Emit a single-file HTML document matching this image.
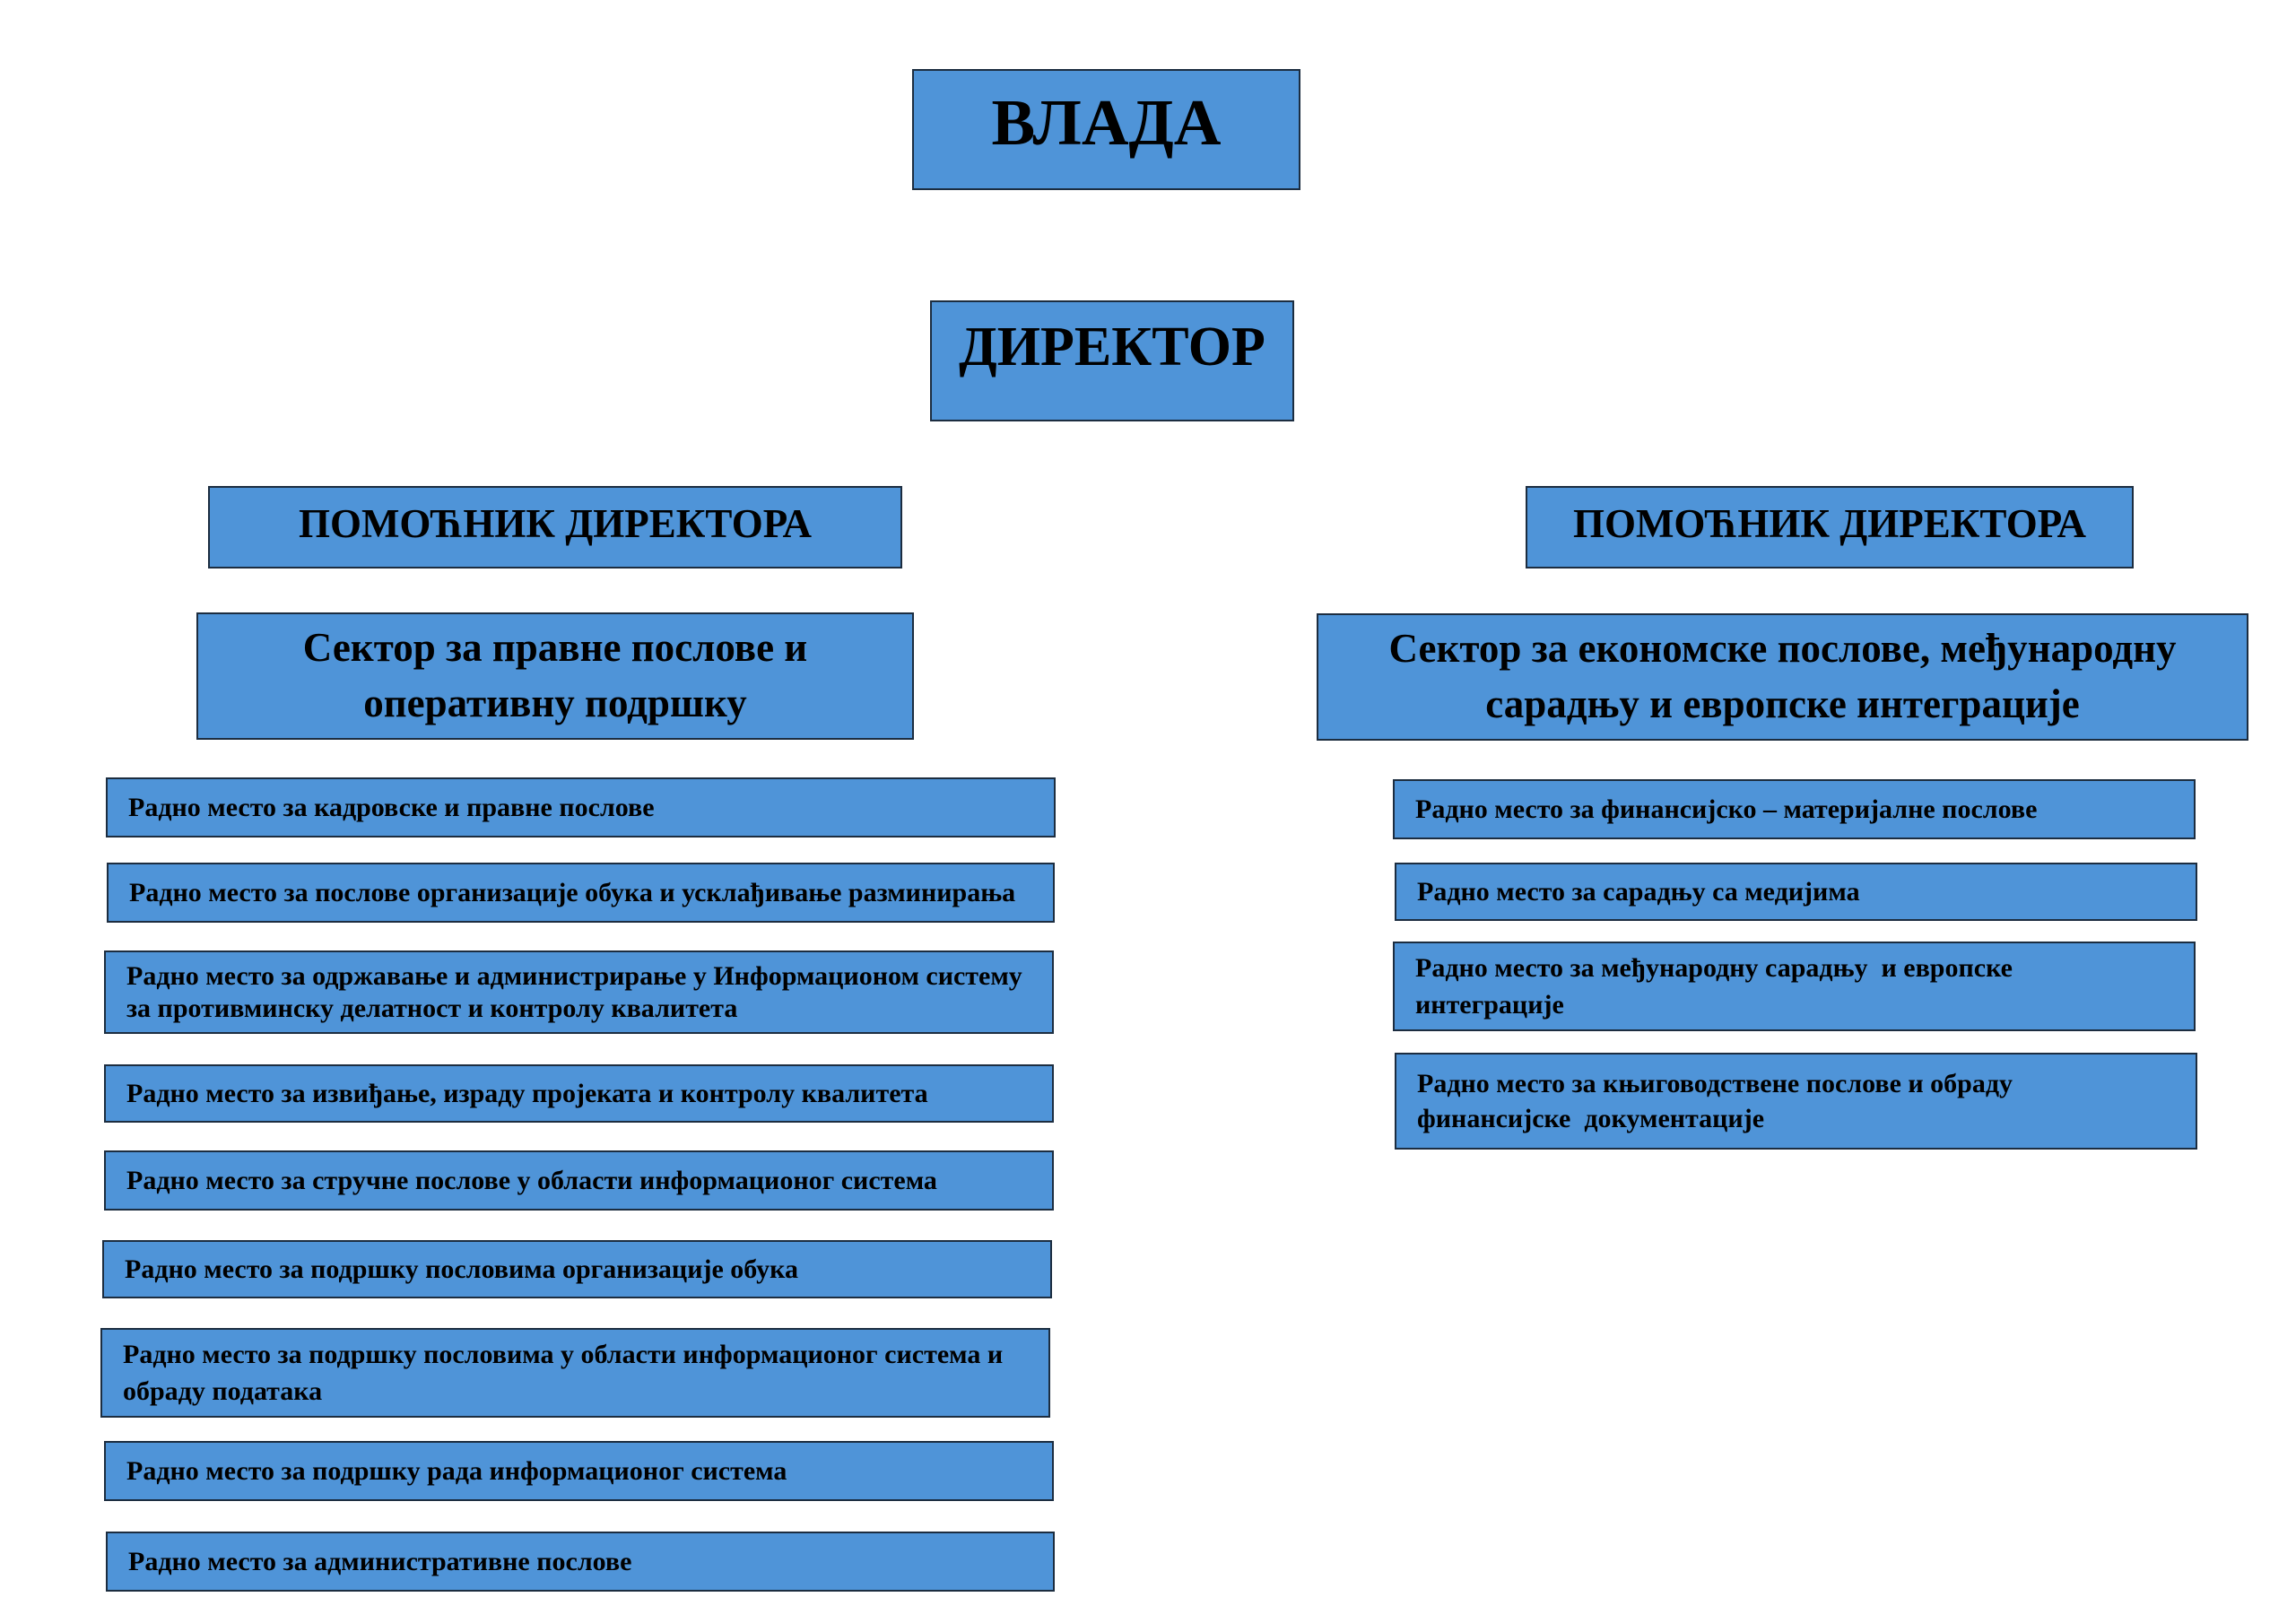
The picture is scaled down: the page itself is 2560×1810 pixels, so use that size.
<!DOCTYPE html>
<html><head><meta charset="utf-8"><style>
html,body{margin:0;padding:0;background:#fff;}
body{width:2560px;height:1810px;position:relative;overflow:hidden;font-family:"Liberation Serif","DejaVu Serif",serif;font-weight:bold;color:#000;}
.b{position:absolute;background:#4F94D8;border:2px solid #1c2d40;box-sizing:border-box;}
.c{text-align:center;}
.i{display:flex;align-items:center;padding-left:23px;font-size:30px;line-height:38px;}
</style></head><body>
<div class="b c" style="left:1017px;top:77px;width:433px;height:135px;font-size:73px;line-height:115px;">ВЛАДА</div>
<div class="b c" style="left:1037px;top:335px;width:406px;height:135px;font-size:62px;line-height:100px;">ДИРЕКТОР</div>
<div class="b c" style="left:232px;top:542px;width:774px;height:92px;font-size:45px;line-height:80px;">ПОМОЋНИК ДИРЕКТОРА</div>
<div class="b c" style="left:1701px;top:542px;width:678px;height:92px;font-size:45px;line-height:80px;">ПОМОЋНИК ДИРЕКТОРА</div>
<div class="b c" style="left:219px;top:683px;width:800px;height:142px;font-size:45px;line-height:62px;padding-top:6px;">Сектор за правне послове и<br>оперативну подршку</div>
<div class="b c" style="left:1468px;top:684px;width:1039px;height:142px;font-size:45px;line-height:62px;padding-top:6px;">Сектор за економске послове, међународну<br>сарадњу и европске интеграције</div>

<div class="b i" style="left:118px;top:867px;width:1059px;height:67px;">Радно место за кадровске и правне послове</div>
<div class="b i" style="left:119px;top:962px;width:1057px;height:67px;">Радно место за послове организације обука и усклађивање разминирања</div>
<div class="b i" style="left:116px;top:1060px;width:1059px;height:93px;line-height:36px;">Радно место за одржавање и администрирање у Информационом систему<br>за противминску делатност и контролу квалитета</div>
<div class="b i" style="left:116px;top:1187px;width:1059px;height:65px;">Радно место за извиђање, израду пројеката и контролу квалитета</div>
<div class="b i" style="left:116px;top:1283px;width:1059px;height:67px;">Радно место за стручне послове у области информационог система</div>
<div class="b i" style="left:114px;top:1383px;width:1059px;height:65px;">Радно место за подршку пословима организације обука</div>
<div class="b i" style="left:112px;top:1481px;width:1059px;height:100px;line-height:41px;">Радно место за подршку пословима у области информационог система и<br>обраду података</div>
<div class="b i" style="left:116px;top:1607px;width:1059px;height:67px;">Радно место за подршку рада информационог система</div>
<div class="b i" style="left:118px;top:1708px;width:1058px;height:67px;">Радно место за административне послове</div>

<div class="b i" style="left:1553px;top:869px;width:895px;height:67px;">Радно место за финансијско – материјалне послове</div>
<div class="b i" style="left:1555px;top:962px;width:895px;height:65px;">Радно место за сарадњу са медијима</div>
<div class="b i" style="left:1553px;top:1050px;width:895px;height:100px;line-height:41px;">Радно место за међународну сарадњу&nbsp; и европске<br>интеграције</div>
<div class="b i" style="left:1555px;top:1174px;width:895px;height:108px;line-height:39px;">Радно место за књиговодствене послове и обраду<br>финансијске&nbsp; документације</div>
</body></html>
